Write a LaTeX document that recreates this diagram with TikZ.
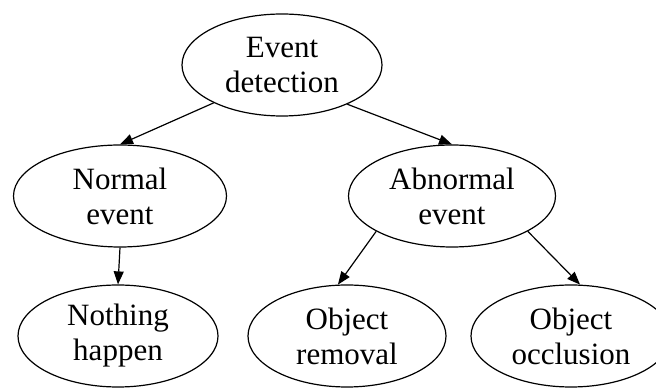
\documentclass[tikz,border=0pt]{standalone}
\usepackage{fontspec}
\setmainfont{Liberation Serif}
\usetikzlibrary{shapes.geometric,arrows.meta}
\begin{document}
\begin{tikzpicture}[x=1pt,y=1pt,
  state/.style={ellipse,draw,line width=1.2pt,inner sep=0pt,
    minimum width=200pt,minimum height=102pt,align=center,
    font=\fontsize{31}{35}\selectfont},
  arr/.style={line width=1.2pt,-{Triangle[length=13pt,width=10pt]}}]
\useasboundingbox (0,0) rectangle (656,390);
\node[state] (ed) at (282,325) {Event\\detection};
\node[state,minimum width=213pt] (ne) at (120,194) {Normal\\event};
\node[state,minimum width=207pt] (ab) at (452,194) {Abnormal\\event};
\node[state] (nh) at (118,54) {Nothing\\happen};
\node[state,minimum width=198pt] (or) at (347,54) {Object\\removal};
\node[state] (oc) at (571,54) {Object\\occlusion};
\draw[arr] (ed.209) -- (ne.north);
\draw[arr] (ed.329) -- (ab.north);
\draw[arr] (ne.south) -- (nh.north);
\draw[arr] (ab.205) -- (or.100);
\draw[arr] (ab.335) -- (oc.80);
\end{tikzpicture}
\end{document}
